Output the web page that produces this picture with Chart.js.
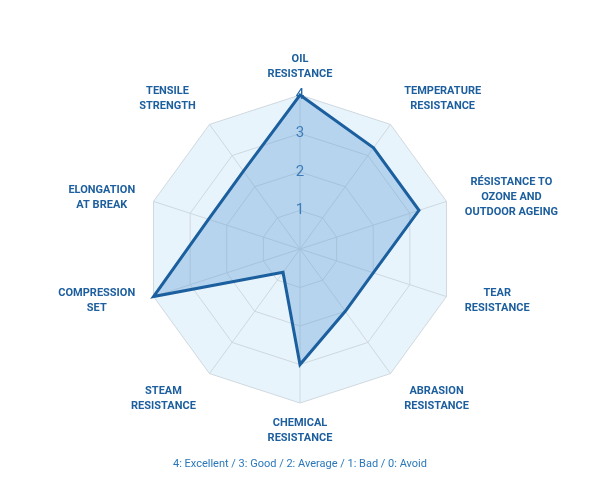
<!DOCTYPE html>
<html>
<head>
<meta charset="utf-8">
<script src="https://cdn.jsdelivr.net/npm/chart.js@4/dist/chart.umd.min.js"></script>
<style>
  html, body { margin: 0; padding: 0; background: #ffffff; }
</style>
</head>
<body>
<canvas id="graficaRadar" width="600" height="498"></canvas>
<script>
// Propiedades del material (escala 0 a 4)
const labelsPropiedad = [
    ['OIL', 'RESISTANCE'],
    ['TEMPERATURE', 'RESISTANCE'],
    ['RÉSISTANCE TO', 'OZONE AND', 'OUTDOOR AGEING'],
    ['TEAR', 'RESISTANCE'],
    ['ABRASION', 'RESISTANCE'],
    ['CHEMICAL', 'RESISTANCE'],
    ['STEAM', 'RESISTANCE'],
    ['COMPRESSION', 'SET'],
    ['ELONGATION', 'AT BREAK'],
    ['TENSILE', 'STRENGTH']
];
const dataPropiedad = [4, 3.25, 3.25, 2, 2, 3, 0.75, 4, 2.5, 2.5];
const ticksEscala = [0, 1, 2, 3, 4];
const leyendaEscala = '4: Excellent / 3: Good / 2: Average / 1: Bad / 0: Avoid';

const azulTexto = '#1c5e9e';

// Etiquetas centradas alrededor del radar
const etiquetasPlugin = {
    id: 'etiquetas',
    afterDraw(chart) {
        const r = chart.scales.r;
        const ctx = chart.ctx;
        const lineH = 15;
        ctx.save();
        ctx.font = 'bold 11px Roboto';
        ctx.fillStyle = azulTexto;
        ctx.textBaseline = 'middle';
        ctx.textAlign = 'center';
        labelsPropiedad.forEach((lineas, i) => {
            const p = r.getPointPosition(i, r.drawingArea + 13);
            const ang = (i / labelsPropiedad.length) * Math.PI * 2;
            const s = Math.sin(ang), c = Math.cos(ang);
            const w = Math.max(...lineas.map(l => ctx.measureText(l).width));
            const h = lineas.length * lineH;
            let cx = p.x;
            if (s > 0.1) cx = p.x + 6 + w / 2;
            else if (s < -0.1) cx = p.x - 6 - w / 2;
            let top = p.y - h / 2;
            if (c > 0.5) top = p.y - h;
            else if (c < -0.5) top = p.y;
            lineas.forEach((l, k) => ctx.fillText(l, cx, top + lineH * k + lineH / 2));
        });
        ctx.font = '11px Roboto';
        ctx.fillStyle = '#2a78bb';
        ctx.fillText(leyendaEscala, chart.width / 2, 464);
        ctx.restore();
    }
};

const ctxRadar = document.getElementById('graficaRadar').getContext('2d');
const graficaRadar = new Chart(ctxRadar, {
    type: 'radar',
    data: {
        labels: labelsPropiedad,
        datasets: [{
            label: 'Rating',
            data: dataPropiedad,
            backgroundColor: 'rgba(100, 160, 215, 0.38)',
            borderColor: '#1b5f9e',
            borderWidth: 3,
            pointRadius: 0,
            tension: 0
        }]
    },
    options: {
        responsive: false,
        animation: false,
        layout: {
            padding: { top: 83, bottom: 83, left: 138, right: 138 }
        },
        plugins: {
            legend: { display: false },
            tooltip: { enabled: false }
        },
        scales: {
            r: {
                min: ticksEscala[0],
                max: ticksEscala[ticksEscala.length - 1],
                backgroundColor: '#e8f4fc',
                grid: { color: '#cfd8df', lineWidth: 1 },
                angleLines: { color: '#cfd8df', lineWidth: 1 },
                pointLabels: { display: false },
                ticks: {
                    stepSize: 1,
                    showLabelBackdrop: false,
                    backdropPadding: 0,
                    color: '#2467a8',
                    font: { family: 'Roboto', size: 15 }
                }
            }
        }
    },
    plugins: [etiquetasPlugin]
});
</script>
</body>
</html>
